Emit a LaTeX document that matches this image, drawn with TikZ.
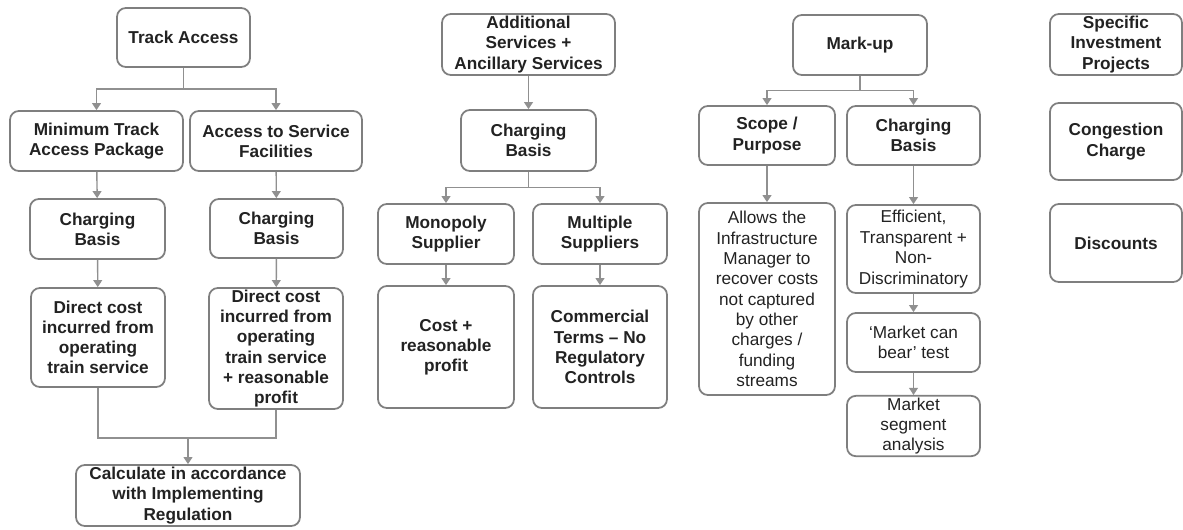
\documentclass[tikz,border=0pt]{standalone}
\usepackage{fontspec}
\setmainfont{Liberation Sans}
\usetikzlibrary{calc,arrows.meta}
\definecolor{boxgray}{HTML}{7F7F7F}
\definecolor{textgray}{HTML}{222222}
\definecolor{linkgray}{HTML}{909090}
\begin{document}
\begin{tikzpicture}[x=0.02cm,y=-0.02cm,
                    box/.style={draw=boxgray,line width=1pt,rounded corners=5pt,align=center,inner sep=1pt,
                                text=textgray,font=\fontsize{9.8}{11.5}\selectfont\bfseries},
                    plainbox/.style={box,font=\fontsize{9.8}{11.6}\selectfont},
                    link/.style={draw=linkgray,line width=0.8pt,-{Triangle[width=5pt,length=4pt]}},
                    line/.style={draw=linkgray,line width=0.8pt}]
      \useasboundingbox (0,0) rectangle (1183,529);

      \node[box,minimum width=2.66cm,minimum height=1.18cm] (track) at (183.5,37.5) {Track Access};
      \node[box,minimum width=3.46cm,minimum height=1.2cm] (minimum) at (96.5,141) {Minimum Track\\Access Package};
      \node[box,minimum width=3.44cm,minimum height=1.2cm] (facilities) at (276,141) {Access to Service\\Facilities};
      \node[box,minimum width=2.7cm,minimum height=1.2cm] (basisA) at (97.5,229) {Charging\\Basis};
      \node[box,minimum width=2.66cm,minimum height=1.18cm] (basisB) at (276.5,228.5) {Charging\\Basis};
      \node[box,minimum width=2.68cm,minimum height=1.98cm] (directA) at (98,337.5) {Direct cost\\incurred from\\operating\\train service};
      \node[box,minimum width=2.68cm,minimum height=2.42cm] (directB) at (276,348.5) {Direct cost\\incurred from\\operating\\train service\\+ reasonable\\profit};
      \node[box,minimum width=4.48cm,minimum height=1.22cm] (calculate) at (188,495.5) {Calculate in accordance\\with Implementing\\Regulation};
      \coordinate (join) at (188,438);

      \draw[link] (track.south) |- ($(track.south)!.5!(minimum.north)$) -| (minimum.north);
      \draw[link] (track.south) |- ($(track.south)!.5!(facilities.north)$) -| (facilities.north);
      \draw[link] (minimum) -- (basisA);
      \draw[link] (facilities) -- (basisB);
      \draw[link] (basisA) -- (directA);
      \draw[link] (basisB) -- (directB);
      \draw[line] (directA.south) |- (join);
      \draw[line] (directB.south) |- (join);
      \draw[link] (join) -- (calculate.north);

      \node[box,minimum width=3.46cm,minimum height=1.22cm] (additional) at (528.5,44.5) {Additional\\Services +\\Ancillary Services};
      \node[box,minimum width=2.7cm,minimum height=1.22cm] (basisC) at (528.5,140.5) {Charging\\Basis};
      \node[box,minimum width=2.72cm,minimum height=1.2cm] (monopoly) at (446,234) {Monopoly\\Supplier};
      \node[box,minimum width=2.68cm,minimum height=1.2cm] (multiple) at (600,234) {Multiple\\Suppliers};
      \node[box,minimum width=2.72cm,minimum height=2.44cm] (cost) at (446,347) {Cost +\\reasonable\\profit};
      \node[box,minimum width=2.68cm,minimum height=2.44cm] (commercial) at (600,347) {Commercial\\Terms -- No\\Regulatory\\Controls};

      \draw[link] (additional) -- (basisC);
      \draw[link] (basisC.south) |- ($(basisC.south)!.5!(monopoly.north)$) -| (monopoly.north);
      \draw[link] (basisC.south) |- ($(basisC.south)!.5!(multiple.north)$) -| (multiple.north);
      \draw[link] (monopoly) -- (cost);
      \draw[link] (multiple) -- (commercial);

      \node[box,minimum width=2.68cm,minimum height=1.2cm] (markup) at (860,45) {Mark-up};
      \node[box,minimum width=2.72cm,minimum height=1.18cm] (scope) at (767,135.5) {Scope /\\Purpose};
      \node[box,minimum width=2.66cm,minimum height=1.18cm] (basisD) at (913.5,135.5) {Charging\\Basis};
      \node[plainbox,minimum width=2.72cm,minimum height=3.84cm] (allows) at (767,299) {Allows the\\Infrastructure\\Manager to\\recover costs\\not captured\\by other\\charges /\\funding\\streams};
      \node[plainbox,minimum width=2.66cm,minimum height=1.76cm] (efficient) at (913.5,249) {Efficient,\\Transparent +\\Non-\\Discriminatory};
      \node[plainbox,minimum width=2.66cm,minimum height=1.18cm] (bear) at (913.5,342.5) {`Market can\\bear' test};
      \node[plainbox,minimum width=2.66cm,minimum height=1.16cm] (segment) at (913.5,426) {Market\\segment\\analysis};

      \draw[link] (markup.south) |- ($(markup.south)!.5!(scope.north)$) -| (scope.north);
      \draw[link] (markup.south) |- ($(markup.south)!.5!(basisD.north)$) -| (basisD.north);
      \draw[link] (scope) -- (allows);
      \draw[link] (basisD) -- (efficient);
      \draw[link] (efficient) -- (bear);
      \draw[link] (bear) -- (segment);

      \node[box,minimum width=2.64cm,minimum height=1.22cm] (specific) at (1116,44.5) {Specific\\Investment\\Projects};
      \node[box,minimum width=2.64cm,minimum height=1.54cm] (congestion) at (1116,141.5) {Congestion\\Charge};
      \node[box,minimum width=2.64cm,minimum height=1.56cm] (discounts) at (1116,243) {Discounts};
    \end{tikzpicture}
\end{document}
